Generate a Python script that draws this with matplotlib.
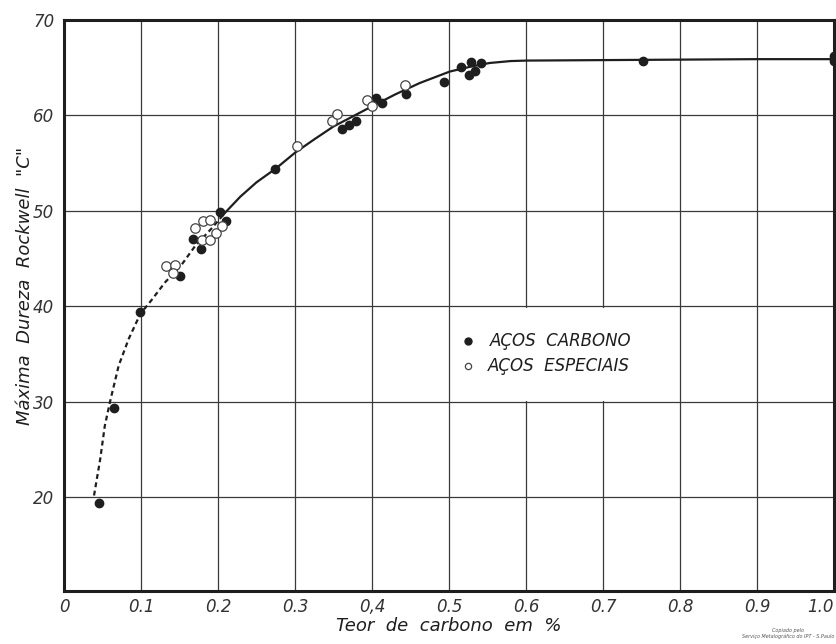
import numpy as np
import matplotlib.pyplot as plt
from matplotlib.patches import Rectangle

# Dureza maxima (Rockwell C) x teor de carbono
# pontos

# acos carbono (pontos cheios)
carbono_x = [0.045, 0.065, 0.099, 0.151, 0.167, 0.178, 0.202, 0.211, 0.274,
             0.361, 0.370, 0.379, 0.405, 0.413, 0.444, 0.494, 0.516, 0.526,
             0.529, 0.534, 0.542, 0.752, 1.0, 1.0]
carbono_y = [19.4, 29.4, 39.4, 43.2, 47.1, 46.0, 49.9, 49.0, 54.4,
             58.6, 59.0, 59.4, 61.8, 61.3, 62.2, 63.55, 65.05, 64.25,
             65.65, 64.7, 65.5, 65.75, 66.2, 65.7]

# acos especiais (pontos abertos)
especiais_x = [0.133, 0.144, 0.141, 0.170, 0.181, 0.190, 0.179, 0.189, 0.198,
               0.205, 0.302, 0.348, 0.355, 0.393, 0.400, 0.443]
especiais_y = [44.2, 44.3, 43.5, 48.2, 48.9, 49.1, 47.0, 47.0, 47.7,
               48.4, 56.8, 59.4, 60.2, 61.6, 61.0, 63.2]

# curva tracejada (extrapolada) e curva cheia
tracejada_x = [0.039, 0.047, 0.053, 0.060, 0.071, 0.084, 0.099, 0.114, 0.131,
               0.153, 0.170, 0.192, 0.209]
tracejada_y = [20.2, 24.0, 27.5, 30.1, 33.8, 36.6, 39.2, 40.7, 42.5,
               44.4, 46.3, 48.2, 49.8]
cheia_x = [0.209, 0.229, 0.250, 0.276, 0.300, 0.325, 0.350, 0.375, 0.401,
           0.430, 0.462, 0.501, 0.530, 0.553, 0.580, 0.601, 0.700, 0.800,
           0.900, 1.0]
cheia_y = [49.8, 51.5, 53.0, 54.5, 56.1, 57.5, 58.85, 59.9, 61.0,
           62.2, 63.4, 64.6, 65.15, 65.5, 65.7, 65.75, 65.8, 65.85,
           65.9, 65.9]

xticks = [0, 0.1, 0.2, 0.3, 0.4, 0.5, 0.6, 0.7, 0.8, 0.9, 1.0]
xticklabels = ['0', '0.1', '0.2', '0.3', '0,4', '0.5', '0.6', '0.7', '0.8', '0.9', '1.0']
yticks = [20, 30, 40, 50, 60, 70]

tinta = '#1e1e1e'

fig = plt.figure(figsize=(8.37, 6.44), dpi=100)
ax = fig.add_axes([64 / 837, 1 - 591 / 644, 770 / 837, 571 / 644])

ax.plot(tracejada_x, tracejada_y, color=tinta, lw=1.6, ls=(0, (2.2, 1.6)), zorder=3)
ax.plot(cheia_x, cheia_y, color=tinta, lw=1.6, zorder=3)

ax.plot(carbono_x, carbono_y, ls='None', marker='o', markersize=6,
        color=tinta, zorder=4, clip_on=False)
ax.plot(especiais_x, especiais_y, ls='None', marker='o', markersize=6.8,
        markerfacecolor='white', markeredgecolor='#444444', markeredgewidth=0.9,
        zorder=5, clip_on=False)

ax.set_xlim(0, 1.0)
ax.set_ylim(10.2, 70)
ax.set_xticks(xticks)
ax.set_xticklabels(xticklabels)
ax.set_yticks(yticks)
ax.tick_params(length=0, labelsize=12, colors='#333333')
ax.tick_params(axis='x', pad=5)
ax.tick_params(axis='y', pad=7)
for lab in ax.get_xticklabels() + ax.get_yticklabels():
    lab.set_style('italic')
ax.get_xticklabels()[-1].set_horizontalalignment('right')

ax.grid(True, color='#3a3a3a', lw=0.9)
ax.set_axisbelow(True)
for s in ax.spines.values():
    s.set_linewidth(2.2)
    s.set_color(tinta)

# area branca da legenda (sem grade)
ax.add_patch(Rectangle((0.503, 30.15), 0.294, 9.7, facecolor='white',
                       edgecolor='none', zorder=1))
ax.plot([0.525], [36.4], ls='None', marker='o', markersize=5, color=tinta, zorder=4)
ax.plot([0.525], [33.8], ls='None', marker='o', markersize=4.5,
        markerfacecolor='white', markeredgecolor='#444444', markeredgewidth=0.9, zorder=4)
ax.text(0.553, 36.4, 'AÇOS  CARBONO', fontsize=12, style='italic',
        color=tinta, va='center')
ax.text(0.550, 33.8, 'AÇOS  ESPECIAIS', fontsize=12, style='italic',
        color=tinta, va='center')

ax.set_xlabel('Teor  de  carbono  em  %', fontsize=13, style='italic',
              color=tinta, labelpad=1)
ax.set_ylabel('Máxima  Dureza  Rockwell  "C"', fontsize=13, style='italic',
              color=tinta)
ax.yaxis.set_label_coords(-0.039, 0.535)

fig.text(0.997, 0.008, 'Copiado pelo\nServiço Metalográfico do IPT - S.Paulo',
         fontsize=3.5, style='italic', ha='right', va='bottom', color='#555555',
         linespacing=1.0, multialignment='center')

fig.savefig('out.png', dpi=100, facecolor='white')
